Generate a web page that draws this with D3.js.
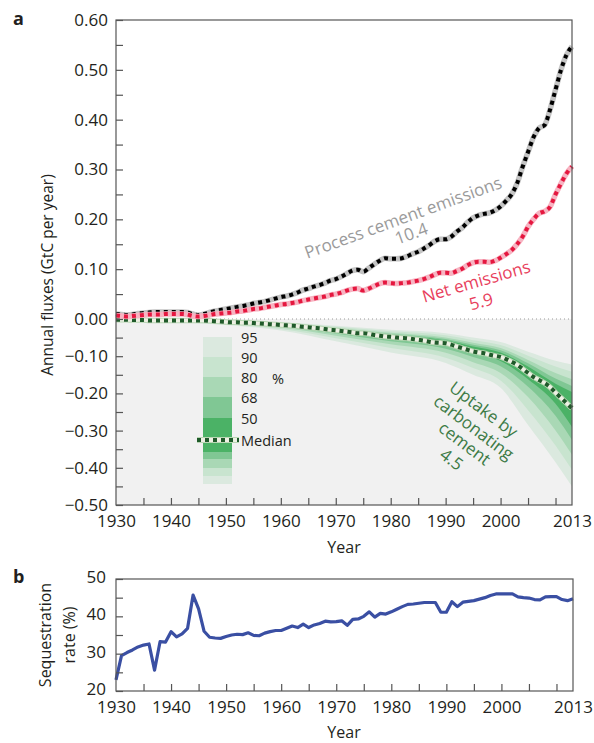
<!DOCTYPE html>
<html>
<head>
<meta charset="utf-8">
<script src="https://cdn.jsdelivr.net/npm/d3@7"></script>
<style>
  body { margin: 0; background: #fff; }
  svg { font-family: "Open Sans", "Noto Sans", sans-serif; }
</style>
</head>
<body>
<div id="chart"></div>
<script>
// years 1930..2013
const years = d3.range(1930, 2014);

// process cement emissions (GtC per year)
const processEmissions = [
  0.010, 0.009, 0.008, 0.009, 0.011, 0.012, 0.013, 0.014, 0.014, 0.014,
  0.014, 0.014, 0.014, 0.013, 0.010, 0.008, 0.010, 0.013, 0.016, 0.018,
  0.020, 0.022, 0.024, 0.026, 0.028, 0.031, 0.033, 0.035, 0.038, 0.041,
  0.044, 0.046, 0.049, 0.053, 0.058, 0.061, 0.065, 0.068, 0.072, 0.077,
  0.080, 0.085, 0.091, 0.097, 0.099, 0.095, 0.102, 0.110, 0.117, 0.122,
  0.121, 0.121, 0.122, 0.126, 0.131, 0.135, 0.141, 0.148, 0.156, 0.160,
  0.160, 0.165, 0.175, 0.183, 0.194, 0.203, 0.208, 0.211, 0.213, 0.218,
  0.226, 0.237, 0.250, 0.272, 0.305, 0.335, 0.365, 0.383, 0.389, 0.420,
  0.460, 0.500, 0.530, 0.547
];

// net emissions (GtC per year)
const netEmissions = [
  0.007, 0.006, 0.005, 0.006, 0.007, 0.008, 0.009, 0.009, 0.009, 0.010,
  0.010, 0.010, 0.010, 0.009, 0.006, 0.005, 0.006, 0.008, 0.010, 0.011,
  0.012, 0.013, 0.015, 0.016, 0.018, 0.020, 0.021, 0.023, 0.025, 0.027,
  0.029, 0.030, 0.032, 0.034, 0.037, 0.039, 0.041, 0.043, 0.045, 0.048,
  0.050, 0.053, 0.057, 0.060, 0.061, 0.057, 0.061, 0.066, 0.071, 0.073,
  0.072, 0.071, 0.072, 0.073, 0.075, 0.077, 0.080, 0.084, 0.089, 0.093,
  0.093, 0.092, 0.096, 0.101, 0.108, 0.113, 0.115, 0.115, 0.114, 0.117,
  0.123, 0.130, 0.138, 0.150, 0.165, 0.185, 0.200, 0.212, 0.216, 0.225,
  0.250, 0.272, 0.292, 0.306
];

// median uptake by carbonating cement (GtC per year)
const uptakeMedian = [
  -0.002, -0.002, -0.002, -0.003, -0.003, -0.003, -0.004, -0.004, -0.004, -0.004,
  -0.004, -0.004, -0.004, -0.004, -0.004, -0.004, -0.004, -0.005, -0.006, -0.007,
  -0.008, -0.009, -0.009, -0.010, -0.010, -0.011, -0.012, -0.013, -0.014, -0.015,
  -0.016, -0.017, -0.018, -0.019, -0.021, -0.022, -0.024, -0.025, -0.027, -0.029,
  -0.030, -0.032, -0.034, -0.036, -0.038, -0.038, -0.040, -0.043, -0.045, -0.047,
  -0.048, -0.050, -0.051, -0.052, -0.054, -0.056, -0.058, -0.061, -0.063, -0.064,
  -0.065, -0.069, -0.074, -0.078, -0.083, -0.087, -0.090, -0.092, -0.096, -0.099,
  -0.102, -0.108, -0.115, -0.123, -0.134, -0.145, -0.156, -0.164, -0.172, -0.183,
  -0.198, -0.212, -0.226, -0.240
];

// uncertainty bands of the uptake, read at a few years
const bandYears = [1930, 1940, 1950, 1960, 1970, 1980, 1990, 1995, 2000, 2005, 2010, 2013];
const band95hi = [-0.0010, -0.0020, -0.0040, -0.009, -0.018, -0.029, -0.038, -0.050, -0.062, -0.088, -0.112, -0.122];
const band90hi = [-0.0012, -0.0025, -0.0050, -0.011, -0.021, -0.033, -0.044, -0.057, -0.070, -0.099, -0.128, -0.142];
const band80hi = [-0.0014, -0.0030, -0.0060, -0.012, -0.024, -0.037, -0.050, -0.064, -0.078, -0.110, -0.145, -0.162];
const band68hi = [-0.0016, -0.0033, -0.0067, -0.013, -0.026, -0.040, -0.054, -0.069, -0.084, -0.119, -0.160, -0.180];
const band50hi = [-0.0018, -0.0036, -0.0073, -0.0145, -0.028, -0.044, -0.058, -0.074, -0.090, -0.128, -0.174, -0.196];
const band50lo = [-0.0024, -0.0047, -0.0093, -0.018, -0.035, -0.054, -0.072, -0.092, -0.113, -0.162, -0.228, -0.290];
const band68lo = [-0.0027, -0.0053, -0.0105, -0.020, -0.039, -0.060, -0.080, -0.102, -0.127, -0.182, -0.260, -0.325];
const band80lo = [-0.0030, -0.0060, -0.0120, -0.023, -0.045, -0.068, -0.091, -0.116, -0.145, -0.210, -0.300, -0.365];
const band90lo = [-0.0035, -0.0070, -0.0140, -0.027, -0.052, -0.078, -0.104, -0.132, -0.165, -0.245, -0.340, -0.405];
const band95lo = [-0.0040, -0.0080, -0.0160, -0.031, -0.060, -0.090, -0.118, -0.150, -0.185, -0.285, -0.385, -0.450];

// sequestration rate (%)
const sequestrationRate = [
  23.0, 29.5, 30.3, 31.0, 31.8, 32.3, 32.6, 25.6, 33.2, 33.1,
  35.9, 34.5, 35.3, 36.8, 45.7, 42.0, 36.0, 34.4, 34.2, 34.1,
  34.6, 35.0, 35.2, 35.1, 35.6, 34.9, 34.8, 35.5, 35.9, 36.2,
  36.2, 36.8, 37.4, 37.0, 37.9, 37.0, 37.7, 38.1, 38.7, 38.5,
  38.6, 38.8, 37.6, 39.2, 39.3, 40.0, 41.2, 39.8, 40.8, 40.6,
  41.2, 41.9, 42.6, 43.2, 43.3, 43.5, 43.7, 43.7, 43.7, 41.1,
  41.1, 43.9, 42.6, 43.8, 44.0, 44.2, 44.6, 45.0, 45.6, 46.0,
  46.0, 46.0, 46.0, 45.2, 45.0, 44.9, 44.5, 44.4, 45.2, 45.3,
  45.3, 44.5, 44.2, 44.7
];

// tick values
const fluxTicks = d3.range(-50, 61, 5).map((v) => v / 100);
const fluxLabels = d3.range(-50, 61, 10).map((v) => v / 100);
const yearTicks = d3.range(1935, 2013, 5);
const yearLabels = [1930, 1940, 1950, 1960, 1970, 1980, 1990, 2000, 2013];
const rateTicks = [20, 25, 30, 35, 40, 45, 50];
const rateLabels = [20, 30, 40, 50];

const legendLabels = ["95", "90", "80", "68", "50"];
const bandColors = ["#dbe9df", "#c8e4cf", "#a9d8b5", "#80c794", "#4bb266"];

const textColor = "#231f20";
const axisColor = "#555";

const svg = d3
  .select("#chart")
  .append("svg")
  .attr("width", 594)
  .attr("height", 743);

// ---------- panel a ----------
const left = 116, right = 572;
const x = d3.scaleLinear().domain([1930, 2013]).range([left, right]);
// positive and negative halves have different heights
const y = d3.scaleLinear().domain([-0.5, 0, 0.6]).range([505, 319, 20]);

const gA = svg.append("g");

// grey background for the uptake part
gA.append("rect")
  .attr("x", left)
  .attr("y", y(0))
  .attr("width", right - left)
  .attr("height", y(-0.5) - y(0))
  .attr("fill", "#f1f1f1");

// zero line
gA.append("line")
  .attr("x1", left)
  .attr("x2", right)
  .attr("y1", y(0))
  .attr("y2", y(0))
  .attr("stroke", "#999")
  .attr("stroke-width", 1)
  .attr("stroke-dasharray", "1,3");

// bands, widest first
const bandPairs = [
  [band95hi, band95lo],
  [band90hi, band90lo],
  [band80hi, band80lo],
  [band68hi, band68lo],
  [band50hi, band50lo],
];
const bandArea = d3
  .area()
  .x((d) => x(d.year))
  .y0((d) => y(d.lo))
  .y1((d) => y(d.hi))
  .curve(d3.curveMonotoneX);

bandPairs.forEach((pair, i) => {
  const rows = bandYears.map((yr, j) => ({ year: yr, hi: pair[0][j], lo: pair[1][j] }));
  gA.append("path")
    .datum(rows)
    .attr("d", bandArea)
    .attr("fill", bandColors[i]);
});

const line = d3
  .line()
  .x((d) => x(d.year))
  .y((d) => y(d.v))
  .curve(d3.curveMonotoneX);

function dottedLine(values, under, over, mid) {
  const rows = years.map((yr, i) => ({ year: yr, v: values[i] }));
  gA.append("path")
    .datum(rows)
    .attr("d", line)
    .attr("fill", "none")
    .attr("stroke", under)
    .attr("stroke-width", 5.5);
  if (mid) {
    gA.append("path")
      .datum(rows)
      .attr("d", line)
      .attr("fill", "none")
      .attr("stroke", mid)
      .attr("stroke-width", 3.5);
  }
  gA.append("path")
    .datum(rows)
    .attr("d", line)
    .attr("fill", "none")
    .attr("stroke", over)
    .attr("stroke-width", 4)
    .attr("stroke-dasharray", "4,4");
}

dottedLine(uptakeMedian, "#b9d7b4", "#1f5a2a", "#eef0e4");
dottedLine(processEmissions, "#c4c4c4", "#000");
dottedLine(netEmissions, "#f7b4c2", "#e5173f");

// legend
const legX = 203, legW = 29;
const upperTops = [337, 357, 377, 397, 418];
const lowerTops = [440, 452, 459, 468, 476];
const lowerBottom = 484;
legendLabels.forEach((lab, i) => {
  gA.append("rect")
    .attr("x", legX)
    .attr("y", upperTops[i])
    .attr("width", legW)
    .attr("height", (i < 4 ? upperTops[i + 1] : lowerTops[0]) - upperTops[i])
    .attr("fill", bandColors[i]);
  const k = 4 - i;
  gA.append("rect")
    .attr("x", legX)
    .attr("y", lowerTops[k])
    .attr("width", legW)
    .attr("height", (k < 4 ? lowerTops[k + 1] : lowerBottom) - lowerTops[k])
    .attr("fill", bandColors[i]);
  gA.append("text")
    .attr("x", 241)
    .attr("y", upperTops[i])
    .attr("dominant-baseline", "central")
    .attr("font-size", 14.5)
    .attr("fill", textColor)
    .text(lab);
});
gA.append("text")
  .attr("x", 272)
  .attr("y", 378)
  .attr("dominant-baseline", "central")
  .attr("font-size", 14.5)
  .attr("fill", textColor)
  .text("%");

// median swatch
[["#b9d7b4", 6, null], ["#eef0e4", 4, null], ["#1f5a2a", 4, "4,4"]].forEach((s) => {
  gA.append("line")
    .attr("x1", 197)
    .attr("x2", 239)
    .attr("y1", 440)
    .attr("y2", 440)
    .attr("stroke", s[0])
    .attr("stroke-width", s[1])
    .attr("stroke-dasharray", s[2]);
});
gA.append("text")
  .attr("x", 241)
  .attr("y", 440)
  .attr("dominant-baseline", "central")
  .attr("font-size", 14.5)
  .attr("fill", textColor)
  .text("Median");

// annotations
function note(txt, cx, cy, angle, color) {
  gA.append("text")
    .attr("transform", `translate(${cx},${cy}) rotate(${angle})`)
    .attr("text-anchor", "middle")
    .attr("dominant-baseline", "central")
    .attr("font-size", 17)
    .attr("fill", color)
    .text(txt);
}
note("Process cement emissions", 403, 217, -20, "#9b9b9b");
note("10.4", 411, 233, -20, "#9b9b9b");
note("Net emissions", 476, 281, -16, "#e8405c");
note("5.9", 481, 301, -16, "#e8405c");
note("Uptake by", 484, 409, 37, "#3d7b46");
note("carbonating", 474, 427, 37, "#3d7b46");
note("cement", 465, 443, 37, "#3d7b46");
note("4.5", 452, 459, 37, "#3d7b46");

// frame
gA.append("rect")
  .attr("x", left)
  .attr("y", 20)
  .attr("width", right - left)
  .attr("height", y(-0.5) - 20)
  .attr("fill", "none")
  .attr("stroke", axisColor)
  .attr("stroke-width", 1.2);

// axes
gA.append("g")
  .attr("transform", `translate(${left},0)`)
  .call(
    d3.axisLeft(y)
      .tickValues(fluxTicks)
      .tickSize(-7)
      .tickPadding(8)
      .tickFormat((d) => (fluxLabels.some((v) => Math.abs(v - d) < 1e-9) ? d3.format(".2f")(d).replace("-", "\u2212") : ""))
  )
  .call((g) => g.select(".domain").remove());

gA.append("g")
  .attr("transform", `translate(0,${y(-0.5)})`)
  .call(d3.axisBottom(x).tickValues(yearTicks).tickSize(-7).tickFormat(""))
  .call((g) => g.select(".domain").remove());

gA.append("g")
  .attr("transform", `translate(0,${y(-0.5)})`)
  .call(d3.axisBottom(x).tickValues(yearLabels).tickSize(0).tickPadding(10).tickFormat(d3.format("d")))
  .call((g) => g.select(".domain").remove());

// ---------- panel b ----------
const xb = d3.scaleLinear().domain([1930, 2013]).range([left, 573]);
const yb = d3.scaleLinear().domain([20, 50]).range([691, 579]);
const gB = svg.append("g");

gB.append("path")
  .datum(years.map((yr, i) => ({ year: yr, v: sequestrationRate[i] })))
  .attr("d", d3.line().x((d) => xb(d.year)).y((d) => yb(d.v)))
  .attr("fill", "none")
  .attr("stroke", "#3a4fa3")
  .attr("stroke-width", 3.2)
  .attr("stroke-linejoin", "round");

gB.append("rect")
  .attr("x", left)
  .attr("y", 579)
  .attr("width", 573 - left)
  .attr("height", 691 - 579)
  .attr("fill", "none")
  .attr("stroke", axisColor)
  .attr("stroke-width", 1.2);

gB.append("g")
  .attr("transform", `translate(${left},0)`)
  .call(
    d3.axisLeft(yb)
      .tickValues(rateTicks)
      .tickSize(-7)
      .tickPadding(10)
      .tickFormat((d) => (rateLabels.includes(d) ? d : ""))
  )
  .call((g) => g.select(".domain").remove())
  .call((g) => g.selectAll("text").attr("dy", "0.2em"));

gB.append("g")
  .attr("transform", "translate(0,691)")
  .call(d3.axisBottom(xb).tickValues(yearTicks).tickSize(-7).tickFormat(""))
  .call((g) => g.select(".domain").remove());

gB.append("g")
  .attr("transform", "translate(0,691)")
  .call(d3.axisBottom(xb).tickValues(yearLabels).tickSize(0).tickPadding(10).tickFormat(d3.format("d")))
  .call((g) => g.select(".domain").remove());

// style all axes
svg.selectAll(".tick line").attr("stroke", axisColor).attr("stroke-width", 1.2);
svg.selectAll(".tick text")
  .attr("fill", textColor)
  .style("font-size", "17px")
  .style("font-family", "'Open Sans', 'Noto Sans', sans-serif");

// titles
svg.append("text")
  .attr("x", 13)
  .attr("y", 25)
  .attr("font-weight", "bold")
  .attr("font-size", 18)
  .attr("fill", textColor)
  .text("a");
svg.append("text")
  .attr("x", 13)
  .attr("y", 583)
  .attr("font-weight", "bold")
  .attr("font-size", 18)
  .attr("fill", textColor)
  .text("b");

svg.append("text")
  .attr("transform", "translate(47,275) rotate(-90)")
  .attr("text-anchor", "middle")
  .attr("dominant-baseline", "central")
  .attr("font-size", 15.5)
  .attr("fill", textColor)
  .text("Annual fluxes (GtC per year)");

svg.append("text")
  .attr("x", 344)
  .attr("y", 553)
  .attr("text-anchor", "middle")
  .attr("font-size", 16)
  .attr("fill", textColor)
  .text("Year");

svg.append("text")
  .attr("transform", "translate(45,635) rotate(-90)")
  .attr("text-anchor", "middle")
  .attr("dominant-baseline", "central")
  .attr("font-size", 16)
  .attr("fill", textColor)
  .text("Sequestration");
svg.append("text")
  .attr("transform", "translate(69,635) rotate(-90)")
  .attr("text-anchor", "middle")
  .attr("dominant-baseline", "central")
  .attr("font-size", 16)
  .attr("fill", textColor)
  .text("rate (%)");

svg.append("text")
  .attr("x", 344)
  .attr("y", 738)
  .attr("text-anchor", "middle")
  .attr("font-size", 16)
  .attr("fill", textColor)
  .text("Year");
</script>
</body>
</html>
